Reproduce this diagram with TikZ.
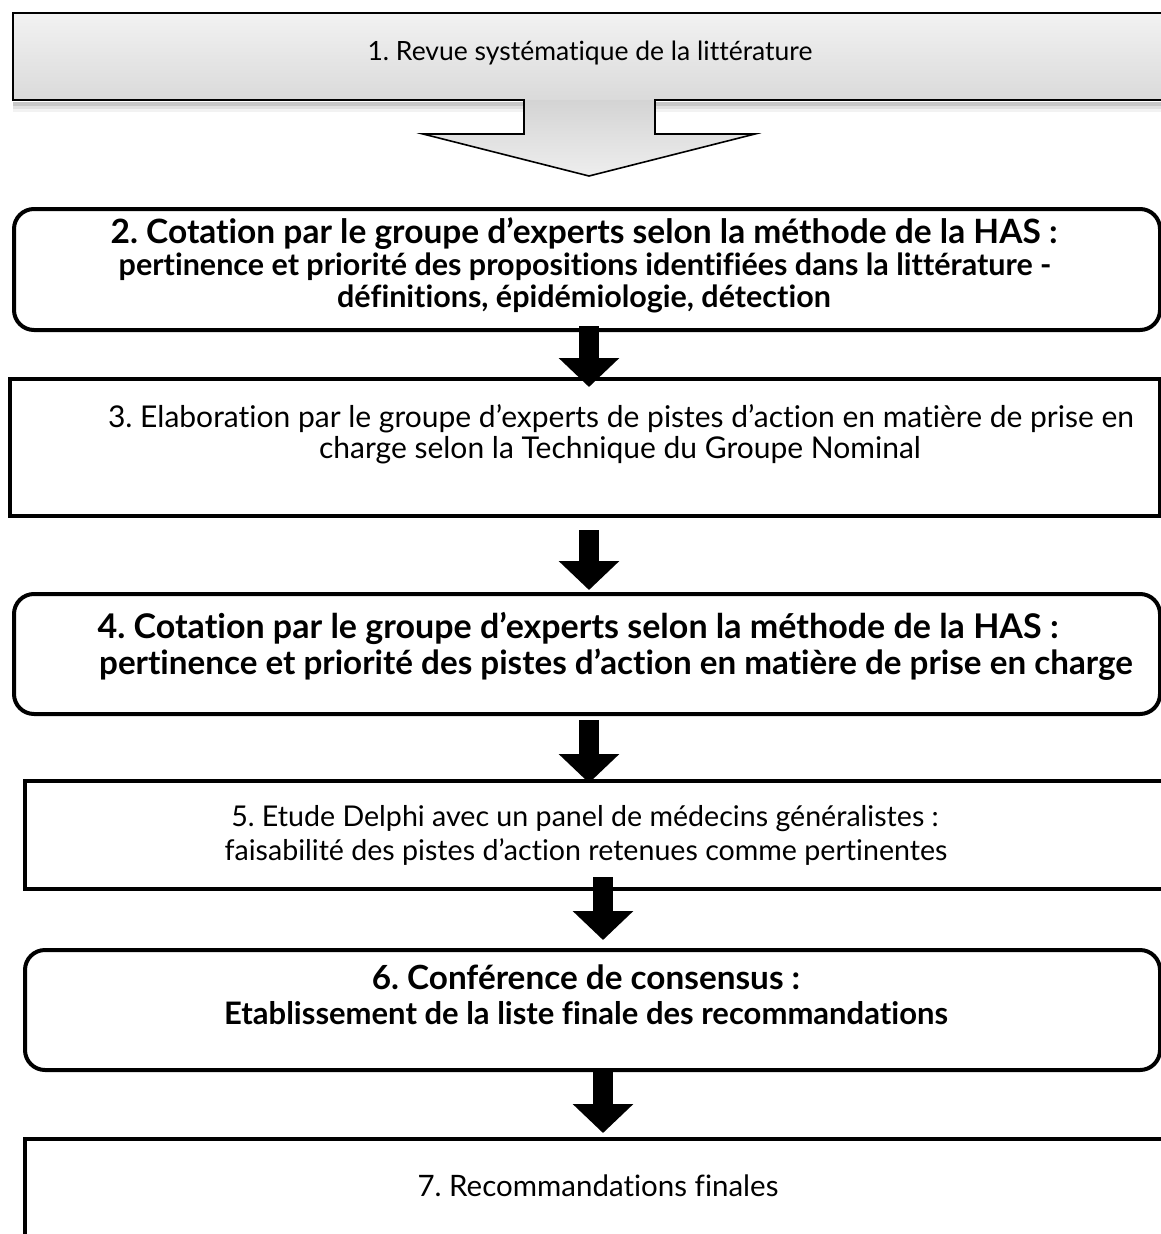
\documentclass[tikz,border=0pt]{standalone}
\usepackage{fontspec}
\setmainfont{Lato}[Ligatures=NoCommon]
\usetikzlibrary{arrows.meta,shadows,calc}
\definecolor{boxtop}{HTML}{F2F2F2}
\definecolor{boxbot}{HTML}{DADADA}
\definecolor{arrtop}{HTML}{D4D4D4}
\definecolor{arrbot}{HTML}{EEEEEE}
\frenchspacing
\begin{document}
\begin{tikzpicture}[x=1pt,y=-1pt,
  flowbox/.style={draw=black, line width=4pt, fill=white, inner sep=0pt, anchor=north west},
  roundbox/.style={flowbox, rounded corners=20pt},
  blockarrow/.style={line width=20pt, draw=black, -{Triangle[length=29pt,width=59pt]}},
  txt/.style={anchor=base, inner sep=0pt, text=black},
  reg/.style={txt, font=\fontsize{#1}{#1}\selectfont},
  bld/.style={txt, font=\fontsize{#1}{#1}\selectfont\bfseries}
]
\useasboundingbox (0,0) rectangle (1160,1234);
\fill[white] (0,0) rectangle (1160,1234);

% ---- box 1 with its block arrow (one outline)
\fill[black, opacity=0.22] (13,102) rectangle (1190,106);
\fill[black, opacity=0.12] (13,106) rectangle (1190,109);
\fill[black, opacity=0.05] (13,109) rectangle (1190,112);
\fill[top color=boxtop, bottom color=boxbot] (13,13) rectangle (1190,100);
\fill[top color=arrtop, bottom color=arrbot] (524,100) -- (655,100) -- (655,134) -- (755,134) -- (589,176) -- (423,134) -- (524,134) -- cycle;
\draw[line width=1.6pt, line join=miter] (1190,13) -- (13,13) -- (13,100) -- (524,100) -- (524,134) -- (423,134) -- (589,176) -- (755,134) -- (655,134) -- (655,100) -- (1190,100);
\node[reg=26.5] (t1) at (590,60) {1. Revue systématique de la littérature};

% ---- boxes
\node[roundbox, minimum width=1146pt, minimum height=121pt] (b2) at (12,207) {};
\node[flowbox, minimum width=1150pt, minimum height=137pt] (b3) at (8,377) {};
\node[roundbox, minimum width=1146pt, minimum height=120pt] (b4) at (12,592) {};
\node[flowbox, minimum width=1140pt, minimum height=108pt] (b5) at (23,779) {};
\node[roundbox, minimum width=1135pt, minimum height=120pt] (b6) at (23,948) {};
\node[flowbox, minimum width=1150pt, minimum height=130pt] (b7) at (23,1137) {};

% ---- texts
\node[bld=33.5] (t2a) at (584,243) {2. Cotation par le groupe d’experts selon la méthode de la HAS :};
\node[bld=30.5] (t2b) at (585,275) {pertinence et priorité des propositions identifiées dans la littérature -};
\node[bld=30.5] (t2c) at (584,307) {définitions, épidémiologie, détection};

\node[reg=30] (t3a) at (621,427) {3. Elaboration par le groupe d’experts de pistes d’action en matière de prise en};
\node[reg=30] (t3b) at (620,458) {charge selon la Technique du Groupe Nominal};

\node[bld=34] (t4a) at (578,638) {4. Cotation par le groupe d’experts selon la méthode de la HAS :};
\node[bld=33.2] (t4b) at (616,674) {pertinence et priorité des pistes d’action en matière de prise en charge};

\node[reg=28.6] (t5a) at (585,826) {5. Etude Delphi avec un panel de médecins généralistes :};
\node[reg=28.6] (t5b) at (586,860) {faisabilité des pistes d’action retenues comme pertinentes};

\node[bld=33.3] (t6a) at (586,989) {6. Conférence de consensus :};
\node[bld=31] (t6b) at (586,1024) {Etablissement de la liste finale des recommandations};

\node[reg=29.5] (t7) at (598,1196) {7. Recommandations finales};

% ---- block arrows
\coordinate (ax1) at (589,0);
\coordinate (ax2) at (603,0);
\draw[blockarrow] ($(b2.south -| ax1)+(0,-6)$) -- ($(b3.north -| ax1)+(0,10)$);
\draw[blockarrow] ($(b3.south -| ax1)+(0,12)$) -- ($(b4.north -| ax1)+(0,-2)$);
\draw[blockarrow] ($(b4.south -| ax1)+(0,4)$) -- ($(b5.north -| ax1)+(0,4)$);
\draw[blockarrow] ($(b5.south -| ax2)+(0,-14)$) -- ($(b6.north -| ax2)+(0,-8)$);
\draw[blockarrow] ($(b6.south -| ax2)+(0,0)$) -- ($(b7.north -| ax2)+(0,-4)$);
\end{tikzpicture}
\end{document}
